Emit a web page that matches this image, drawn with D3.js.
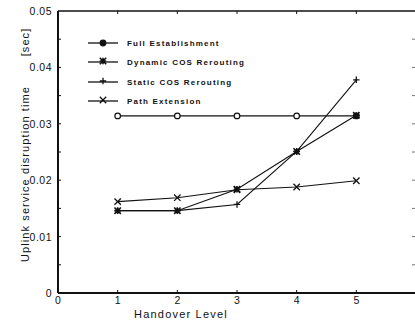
<!DOCTYPE html>
<html>
<head>
<meta charset="utf-8">
<script src="https://cdn.jsdelivr.net/npm/d3@7"></script>
<style>
  body { margin: 0; background: #fff; }
  text { font-family: "Liberation Sans", Arial, sans-serif; fill: #111; }
</style>
</head>
<body>
<div id="chart"></div>
<script>
// chart size
const width = 415;
const height = 330;
const margin = {left: 58, right: 0, top: 11, bottom: 37};

// data
const levels = [1, 2, 3, 4, 5];
const fullEstablishment = [0.0314, 0.0314, 0.0314, 0.0314, 0.0314];
const dynamicCOS = [0.0146, 0.0146, 0.0184, 0.0251, 0.0315];
const staticCOS = [0.0146, 0.0146, 0.0157, 0.0251, 0.0378];
const pathExtension = [0.0162, 0.0169, 0.0183, 0.0188, 0.0199];
const seriesNames = ["Full Establishment", "Dynamic COS Rerouting", "Static COS Rerouting", "Path Extension"];
const xTicks = [0, 1, 2, 3, 4, 5];
const yTicks = [0, 0.01, 0.02, 0.03, 0.04, 0.05];

const series = [
  {name: seriesNames[0], values: fullEstablishment, marker: "circle"},
  {name: seriesNames[1], values: dynamicCOS, marker: "star"},
  {name: seriesNames[2], values: staticCOS, marker: "plus"},
  {name: seriesNames[3], values: pathExtension, marker: "cross"}
];

const svg = d3.select("#chart")
  .append("svg")
  .attr("width", width)
  .attr("height", height);

// scales
const x = d3.scaleLinear().domain([0, 6]).range([margin.left, 416]);
const y = d3.scaleLinear().domain([0, 0.05]).range([height - margin.bottom, margin.top]);

// frame
svg.append("line").attr("x1", x(0)).attr("x2", x(0)).attr("y1", y(0)).attr("y2", y(0.05))
  .attr("stroke", "#111").attr("stroke-width", 2);
svg.append("line").attr("x1", x(0)).attr("x2", width).attr("y1", y(0)).attr("y2", y(0))
  .attr("stroke", "#111").attr("stroke-width", 1.8);
svg.append("line").attr("x1", x(0)).attr("x2", width).attr("y1", y(0.05)).attr("y2", y(0.05))
  .attr("stroke", "#111").attr("stroke-width", 1.6);

// minor ticks on left and right sides
const yMinor = d3.range(0.005, 0.05, 0.005);
svg.selectAll(".ytick").data(yMinor).enter().append("line")
  .attr("x1", x(0)).attr("x2", x(0) + 3)
  .attr("y1", d => y(d)).attr("y2", d => y(d))
  .attr("stroke", "#111").attr("stroke-width", 1);
svg.selectAll(".rtick").data(yMinor).enter().append("line")
  .attr("x1", 412).attr("x2", 415)
  .attr("y1", d => y(d)).attr("y2", d => y(d))
  .attr("stroke", "#777").attr("stroke-width", 1);
svg.selectAll(".xtick").data(levels).enter().append("line")
  .attr("x1", d => x(d)).attr("x2", d => x(d))
  .attr("y1", y(0)).attr("y2", y(0) - 3)
  .attr("stroke", "#111").attr("stroke-width", 1);
svg.selectAll(".ttick").data(levels).enter().append("line")
  .attr("x1", d => x(d)).attr("x2", d => x(d))
  .attr("y1", y(0.05)).attr("y2", y(0.05) + 3)
  .attr("stroke", "#111").attr("stroke-width", 1);

// tick labels
svg.selectAll(".ylab").data(yTicks).enter().append("text")
  .attr("x", x(0) - 6).attr("y", d => y(d) + 4)
  .attr("text-anchor", "end").attr("font-size", 10.5).attr("letter-spacing", 0.5)
  .text(d => d === 0 ? "0" : d3.format(".2f")(d));
svg.selectAll(".xlab").data(xTicks).enter().append("text")
  .attr("x", d => x(d)).attr("y", 304)
  .attr("text-anchor", "middle").attr("font-size", 10.5)
  .text(d => d);

// axis titles
svg.append("text").attr("x", 181).attr("y", 318).attr("text-anchor", "middle")
  .attr("font-size", 11).attr("letter-spacing", 1.2).text("Handover Level");
svg.append("text").attr("transform", "translate(29,174) rotate(-90)")
  .attr("text-anchor", "middle").attr("font-size", 11).attr("letter-spacing", 1.1)
  .text("Uplink service disruption time");
svg.append("text").attr("transform", "translate(29,42) rotate(-90)")
  .attr("text-anchor", "middle").attr("font-size", 11).attr("letter-spacing", 1.1).text("[sec]");

// markers
function drawMarker(g, type, cx, cy, legend) {
  if (type === "circle") {
    g.append("circle").attr("cx", cx).attr("cy", cy).attr("r", 2.8)
      .attr("fill", legend ? "#111" : "#fff").attr("stroke", "#111").attr("stroke-width", 1.2);
  } else if (type === "star") {
    const s = 3.2;
    g.append("path")
      .attr("d", `M${cx - s},${cy}L${cx + s},${cy}M${cx},${cy - s}L${cx},${cy + s}M${cx - s},${cy - s}L${cx + s},${cy + s}M${cx - s},${cy + s}L${cx + s},${cy - s}`)
      .attr("stroke", "#111").attr("stroke-width", 1.6);
  } else if (type === "plus") {
    const s = 3.2;
    g.append("path")
      .attr("d", `M${cx - s},${cy}L${cx + s},${cy}M${cx},${cy - s}L${cx},${cy + s}`)
      .attr("stroke", "#111").attr("stroke-width", 1.3);
  } else {
    const s = 3.2;
    g.append("path")
      .attr("d", `M${cx - s},${cy - s}L${cx + s},${cy + s}M${cx - s},${cy + s}L${cx + s},${cy - s}`)
      .attr("stroke", "#111").attr("stroke-width", 1.3);
  }
}

const line = d3.line().x((d, i) => x(levels[i])).y(d => y(d));

series.forEach(s => {
  svg.append("path").datum(s.values)
    .attr("d", line)
    .attr("fill", "none").attr("stroke", "#111").attr("stroke-width", 1.1);
  const g = svg.append("g");
  s.values.forEach((v, i) => drawMarker(g, s.marker, x(levels[i]), y(v), false));
});

// legend
const legendY = [43, 62, 82, 101];
series.forEach((s, i) => {
  const g = svg.append("g");
  g.append("line").attr("x1", 88).attr("x2", 118).attr("y1", legendY[i]).attr("y2", legendY[i])
    .attr("stroke", "#111").attr("stroke-width", 1.3);
  drawMarker(g, s.marker, 103, legendY[i] - (s.marker === "circle" ? 0 : 1), true);
  g.append("text").attr("x", 127).attr("y", legendY[i] + 3)
    .attr("font-size", 8).attr("font-weight", "bold").attr("letter-spacing", 1.2)
    .text(s.name);
});
</script>
</body>
</html>
